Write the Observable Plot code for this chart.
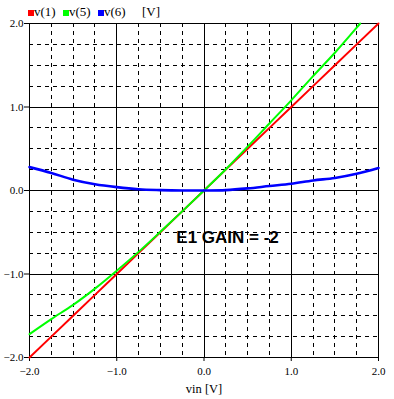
<!DOCTYPE html>
<html>
<head>
<meta charset="utf-8">
<script src="https://cdn.jsdelivr.net/npm/d3@7"></script>
<script src="https://cdn.jsdelivr.net/npm/@observablehq/plot@0.6"></script>
<style>
  html, body { margin: 0; padding: 0; background: #fff; }
  #wrap { position: relative; width: 394px; height: 399px; }
  #legend { position: absolute; left: 0; top: 0; width: 394px; height: 22px;
            font-family: "Liberation Serif", "DejaVu Serif", serif; font-size: 13px; color: #000; }
  #legend span { position: absolute; top: 5px; line-height: 14px; }
  #legend i { position: absolute; top: 10px; width: 6px; height: 6px; }
  svg { display: block; }
</style>
</head>
<body>
<div id="wrap">
  <div id="chart"></div>
  <div id="legend"></div>
</div>
<script>
// ---- data ----
const vin = [-2, -1.75, -1.5, -1.25, -1, -0.75, -0.5, -0.25, 0, 0.25, 0.5, 0.75, 1, 1.25, 1.5, 1.75, 2];
const v1  = [-2, -1.75, -1.5, -1.25, -1, -0.75, -0.5, -0.25, 0, 0.25, 0.5, 0.75, 1, 1.25, 1.5, 1.75, 2];
const v6  = [0.28, 0.21, 0.13, 0.075, 0.04, 0.015, 0.005, 0, 0, 0.005, 0.025, 0.053, 0.08, 0.12, 0.15, 0.2, 0.27];
const vin5 = [-2, -1.75, -1.5, -1.25, -1, -0.75, -0.5, -0.25, 0, 0.25, 0.5, 0.75, 1, 1.25, 1.5, 1.75, 1.79];
const v5   = [-1.72, -1.54, -1.37, -1.175, -0.96, -0.735, -0.495, -0.25, 0, 0.255, 0.525, 0.803, 1.08, 1.37, 1.65, 1.95, 2.0];

const majorTicks = [-2, -1, 0, 1, 2];
const innerMajor = [-1, 0, 1];
const minorTicks = [-1.75, -1.5, -1.25, -0.75, -0.5, -0.25, 0.25, 0.5, 0.75, 1.25, 1.5, 1.75];

const seriesNames = ["v(1)", "v(5)", "v(6)"];
const seriesColors = ["#ff0000", "#00ff00", "#0000ff"];
const unitLabel = "[V]";
const xLabel = "vin [V]";
const note = [{x: 0.27, y: -0.56, text: "E1 GAIN = -2"}];

// ---- tables ----
const d1 = vin.map((x, i) => ({x, y: v1[i]}));
const d5 = vin5.map((x, i) => ({x, y: v5[i]}));
const d6 = vin.map((x, i) => ({x, y: v6[i]}));

const fmt = d3.format(".1f");

const chart = Plot.plot({
  width: 394,
  height: 399,
  marginLeft: 29,
  marginRight: 16,
  marginTop: 23,
  marginBottom: 42,
  x: {domain: [-2, 2]},
  y: {domain: [-2, 2]},
  style: {fontFamily: "'Liberation Serif', 'DejaVu Serif', serif", fontSize: "11px", color: "#000", background: "#fff"},
  marks: [
    Plot.ruleX(minorTicks, {stroke: "#000", strokeWidth: 1, strokeDasharray: "4,4", strokeOpacity: 1, shapeRendering: "crispEdges"}),
    Plot.ruleY(minorTicks, {stroke: "#000", strokeWidth: 1, strokeDasharray: "4,4", strokeOpacity: 1, shapeRendering: "crispEdges"}),
    Plot.ruleX(innerMajor, {stroke: "#000", strokeWidth: 1, shapeRendering: "crispEdges"}),
    Plot.ruleY(innerMajor, {stroke: "#000", strokeWidth: 1, shapeRendering: "crispEdges"}),
    Plot.frame({stroke: "#000", strokeWidth: 1.3, shapeRendering: "crispEdges"}),
    Plot.axisX(majorTicks, {tickFormat: fmt, tickSize: 4, tickPadding: 6, label: null, stroke: "#000", fontSize: 11}),
    Plot.axisY(majorTicks, {tickFormat: fmt, tickSize: 5, tickPadding: 1, label: null, stroke: "#000", fontSize: 11}),
    Plot.text([xLabel], {frameAnchor: "bottom", lineAnchor: "bottom", dy: 35, fontSize: 12.5, fill: "#000"}),
    Plot.line(d1, {x: "x", y: "y", stroke: seriesColors[0], strokeWidth: 2, curve: "linear"}),
    Plot.line(d5, {x: "x", y: "y", stroke: seriesColors[1], strokeWidth: 2, curve: "catmull-rom"}),
    Plot.line(d6, {x: "x", y: "y", stroke: seriesColors[2], strokeWidth: 2.6, curve: "catmull-rom"}),
    Plot.text(note, {x: "x", y: "y", text: "text", fontFamily: "'Liberation Sans', Arial, sans-serif",
      fontSize: 17, fontWeight: "bold", fill: "#000", letterSpacing: "-0.8px", lineAnchor: "middle"})
  ]
});
document.getElementById("chart").appendChild(chart);

// ---- legend ----
const legend = document.getElementById("legend");
const sqLeft = [28, 63, 98];
const txtLeft = [34, 69, 104];
seriesNames.forEach((name, i) => {
  const sq = document.createElement("i");
  sq.style.left = sqLeft[i] + "px";
  sq.style.background = seriesColors[i];
  legend.appendChild(sq);
  const t = document.createElement("span");
  t.style.left = txtLeft[i] + "px";
  t.textContent = name;
  legend.appendChild(t);
});
const u = document.createElement("span");
u.style.left = "142px";
u.textContent = unitLabel;
legend.appendChild(u);
</script>
</body>
</html>
